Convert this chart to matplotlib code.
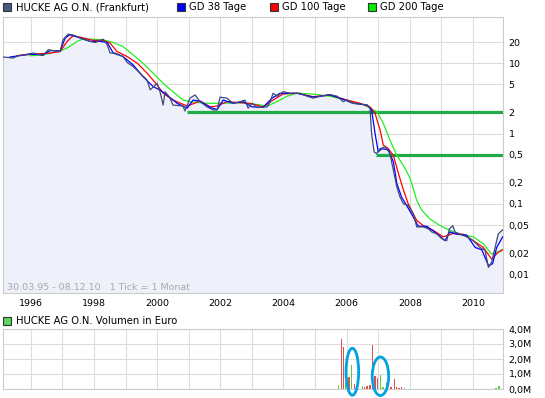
"""
HUCKE AG O.N. (Frankfurt) price chart 1995-2010 with moving averages
(GD 38 / 100 / 200 Tage) and a monthly volume panel below.
"""

import matplotlib
matplotlib.use("Agg")
import matplotlib.pyplot as plt
from matplotlib.patches import Ellipse, Rectangle
from matplotlib.ticker import NullLocator

# ---- price (EUR, log scale) ----
price_t = [1995.13, 1995.44, 1995.60, 1995.98, 1996.07, 1996.39, 1996.55, 1996.71, 1996.93, 1997.02,
           1997.18, 1997.31, 1997.47, 1997.66, 1997.88, 1998.04, 1998.29, 1998.42, 1998.51, 1998.67,
           1998.92, 1999.05, 1999.24, 1999.46, 1999.68, 1999.78, 2000.00, 2000.09, 2000.19, 2000.25,
           2000.41, 2000.50, 2000.82, 2000.88, 2001.04, 2001.20, 2001.36, 2001.58, 2001.77, 2001.90,
           2001.99, 2002.21, 2002.40, 2002.63, 2002.78, 2002.88, 2003.01, 2003.16, 2003.48, 2003.58,
           2003.67, 2003.80, 2003.99, 2004.21, 2004.52, 2004.75, 2004.94, 2005.16, 2005.47, 2005.70,
           2005.89, 2006.01, 2006.20, 2006.42, 2006.65, 2006.74, 2006.79, 2006.87, 2006.95, 2007.06,
           2007.22, 2007.37, 2007.48, 2007.59, 2007.69, 2007.80, 2007.95, 2008.11, 2008.22, 2008.43,
           2008.59, 2008.69, 2008.85, 2009.01, 2009.17, 2009.25, 2009.36, 2009.43, 2009.59, 2009.80,
           2010.01, 2010.22, 2010.38, 2010.49, 2010.59, 2010.70, 2010.80, 2010.94]
price_v = [12.3, 11.9, 12.8, 13.7, 14.0, 12.9, 15.6, 15.2, 14.7, 21.7,
           26.0, 25.5, 24.0, 22.0, 20.5, 19.8, 22.0, 18.4, 14.0, 14.0,
           12.5, 10.3, 9.0, 7.2, 5.8, 4.2, 5.2, 3.95, 2.55, 3.95,
           3.2, 2.55, 2.47, 2.1, 3.2, 3.55, 2.85, 2.4, 2.17, 2.17,
           3.3, 3.2, 2.7, 2.85, 3.0, 2.3, 2.7, 2.35, 2.4, 2.85,
           3.75, 3.4, 3.95, 3.75, 3.75, 3.4, 3.2, 3.4, 3.6, 3.4,
           2.85, 3.0, 2.7, 2.64, 2.55, 2.3, 1.0, 0.55, 0.52, 0.61,
           0.65, 0.52, 0.30, 0.174, 0.125, 0.1, 0.095, 0.072, 0.047, 0.047,
           0.044, 0.040, 0.0375, 0.032, 0.030, 0.044, 0.049, 0.040, 0.037, 0.034,
           0.030, 0.024, 0.022, 0.0125, 0.0148, 0.024, 0.0375, 0.0428]

# GD 38 Tage
gd38_t = [1995.34, 1995.98, 1996.39, 1996.61, 1996.93, 1997.09, 1997.24, 1997.56, 1997.88, 1998.19,
          1998.42, 1998.61, 1998.92, 1999.24, 1999.55, 1999.87, 2000.09, 2000.31, 2000.63, 2000.95,
          2001.14, 2001.36, 2001.68, 2001.90, 2002.09, 2002.40, 2002.72, 2003.01, 2003.35, 2003.64,
          2003.89, 2004.43, 2004.94, 2005.47, 2005.89, 2006.20, 2006.65, 2006.79, 2006.90, 2007.00,
          2007.11, 2007.32, 2007.48, 2007.59, 2007.74, 2007.90, 2008.11, 2008.27, 2008.54, 2008.85,
          2009.11, 2009.27, 2009.49, 2009.80, 2010.07, 2010.28, 2010.49, 2010.62, 2010.75, 2010.94]
gd38_v = [12.3, 13.5, 13.2, 15.2, 15.0, 23.0, 25.5, 23.0, 20.5, 20.5,
          19.8, 14.0, 12.5, 9.5, 6.5, 4.67, 4.17, 3.55, 2.7, 2.3,
          3.0, 2.9, 2.36, 2.2, 3.0, 2.7, 2.85, 2.4, 2.36, 3.2,
          3.75, 3.75, 3.3, 3.55, 3.08, 2.7, 2.55, 2.17, 1.0, 0.55,
          0.61, 0.59, 0.395, 0.194, 0.125, 0.095, 0.065, 0.048, 0.048, 0.038,
          0.030, 0.040, 0.037, 0.036, 0.024, 0.0222, 0.0132, 0.0141, 0.024, 0.034]

# GD 100 Tage
gd100_t = [1995.57, 1996.07, 1996.61, 1996.93, 1997.15, 1997.34, 1997.66, 1997.97, 1998.29, 1998.51,
           1998.73, 1999.05, 1999.37, 1999.68, 2000.00, 2000.19, 2000.50, 2000.95, 2001.36, 2001.68,
           2001.90, 2002.21, 2002.63, 2002.94, 2003.35, 2003.67, 2003.99, 2004.43, 2004.94, 2005.47,
           2006.01, 2006.42, 2006.74, 2006.90, 2007.06, 2007.16, 2007.32, 2007.48, 2007.64, 2007.80,
           2007.95, 2008.22, 2008.43, 2008.74, 2009.06, 2009.38, 2009.69, 2010.01, 2010.33, 2010.59,
           2010.80, 2010.94]
gd100_v = [12.9, 13.5, 14.0, 14.7, 20.5, 24.7, 23.0, 21.2, 21.2, 19.4,
           14.7, 12.5, 10.05, 7.25, 4.94, 3.75, 3.0, 2.47, 2.9, 2.4,
           2.47, 2.85, 2.75, 2.7, 2.4, 3.0, 3.66, 3.75, 3.35, 3.55,
           3.0, 2.7, 2.4, 1.94, 1.12, 0.685, 0.61, 0.49, 0.27, 0.156,
           0.1, 0.058, 0.049, 0.042, 0.034, 0.038, 0.037, 0.030, 0.024, 0.0164,
           0.0205, 0.0222]

# GD 200 Tage
gd200_t = [1995.98, 1996.39, 1996.93, 1997.15, 1997.47, 1997.66, 1997.97, 1998.29, 1998.61, 1998.92,
           1999.24, 1999.55, 1999.87, 2000.19, 2000.50, 2000.82, 2001.04, 2001.58, 2002.09, 2002.63,
           2003.16, 2003.48, 2003.80, 2004.11, 2004.43, 2004.94, 2005.47, 2006.01, 2006.52, 2006.96,
           2007.16, 2007.37, 2007.59, 2007.85, 2008.01, 2008.22, 2008.38, 2008.64, 2008.96, 2009.27,
           2009.59, 2010.01, 2010.33, 2010.59, 2010.75, 2010.94]
gd200_v = [12.8, 13.2, 15.0, 16.5, 20.5, 22.3, 22.0, 21.6, 19.8, 17.3,
           13.2, 10.05, 7.25, 5.2, 3.95, 3.0, 2.85, 2.7, 2.7, 2.75,
           2.6, 2.47, 2.85, 3.4, 3.75, 3.65, 3.4, 3.0, 2.6, 2.05,
           1.4, 0.81, 0.49, 0.32, 0.23, 0.112, 0.081, 0.061, 0.049, 0.042,
           0.037, 0.034, 0.027, 0.0194, 0.0205, 0.0222]

# hand drawn support lines (level, start year)
support_levels = [2.0, 0.5]
support_start = [2000.95, 2006.93]

# ---- monthly volume in Mio. EUR (green = up month, red = down month) ----
vol_t = [2005.74, 2005.83, 2005.90, 2005.97, 2006.08, 2006.15, 2006.24, 2006.34, 2006.50, 2006.57,
         2006.65, 2006.74, 2006.81, 2006.90, 2006.98, 2007.07, 2007.15, 2007.27, 2007.41, 2007.51,
         2007.57, 2007.66, 2007.73, 2007.83, 2010.73, 2010.82]
vol_m = [0.27, 3.33, 2.8, 0.5, 0.8, 1.6, 0.33, 0.5, 0.2, 0.15,
         0.2, 0.3, 2.95, 0.85, 0.75, 0.95, 0.15, 0.4, 0.13, 0.67,
         0.13, 0.1, 0.13, 0.07, 0.1, 0.2]
vol_up = [True, False, False, True, False, True, False, False, True, False,
          False, False, False, False, False, True, True, False, False, False,
          False, False, False, True, True, True]

# hand drawn circles in the volume panel: (year, Mio, width yr, height Mio)
circles = [(2006.18, 1.15, 0.40, 3.13), (2007.07, 0.85, 0.52, 2.57)]

years = list(range(1996, 2011))
price_ticks = [20, 10, 5, 2, 1, 0.5, 0.2, 0.1, 0.05, 0.02, 0.01]
price_tick_labels = ["20", "10", "5", "2", "1", "0,5", "0,2", "0,1", "0,05", "0,02", "0,01"]
vol_ticks = [0, 1, 2, 3, 4]
vol_tick_labels = ["0,0M", "1,0M", "2,0M", "3,0M", "4,0M"]

X_RANGE = (1995.12, 2010.95)
Y_RANGE = (0.0054, 45.6)
FS = 6.8
GRID = "#dddddd"

W, H = 545, 398


def px_box(x0, y0, x1, y1):
    """pixel box (top-left origin) -> figure fraction [l, b, w, h]"""
    return [x0 / W, 1 - y1 / H, (x1 - x0) / W, (y1 - y0) / H]


def style_axes(ax):
    for s in ax.spines.values():
        s.set_color("#cccccc")
        s.set_linewidth(0.8)
    ax.grid(True, color=GRID, linewidth=0.8)
    ax.set_axisbelow(True)
    ax.tick_params(length=0, labelsize=FS, colors="black")
    ax.yaxis.tick_right()


fig = plt.figure(figsize=(W / 100, H / 100), dpi=100)

# ---- main price panel ----
ax = fig.add_axes(px_box(3, 17, 503, 293))
ax.set_yscale("log")
ax.set_xlim(*X_RANGE)
ax.set_ylim(*Y_RANGE)
style_axes(ax)

ax.fill_between(price_t, price_v, Y_RANGE[0], color="#eef1fa", linewidth=0, zorder=1)
for lvl, start in zip(support_levels, support_start):
    ax.hlines(lvl, start, X_RANGE[1], color="#22aa48", linewidth=2.3, zorder=2)
ax.plot(gd200_t, gd200_v, color="#22ee22", linewidth=0.9, zorder=3)
ax.plot(gd100_t, gd100_v, color="#ff0000", linewidth=0.9, zorder=3)
ax.plot(gd38_t, gd38_v, color="#0000ff", linewidth=0.9, zorder=4)
ax.plot(price_t, price_v, color="#3e4b7a", linewidth=0.9, zorder=5)

ax.set_yticks(price_ticks)
ax.set_yticklabels(price_tick_labels)
ax.yaxis.set_minor_locator(NullLocator())
ax.set_xticks(years)
ax.set_xticklabels([str(y) if y % 2 == 0 else "" for y in years])
ax.tick_params(axis="y", pad=4)
ax.tick_params(axis="x", pad=4)

fig.text(7 / W, 1 - 287 / H, "30.03.95 - 08.12.10   1 Tick = 1 Monat",
         fontsize=FS, color="#a8a8a8", va="center", ha="left")

# ---- volume panel ----
axv = fig.add_axes(px_box(3, 329, 503, 389))
axv.set_xlim(*X_RANGE)
axv.set_ylim(0, 4)
style_axes(axv)
bar_colors = ["#55d044" if up else "#dd5050" for up in vol_up]
axv.bar(vol_t, vol_m, width=0.045, color=bar_colors, linewidth=0, zorder=3)
axv.set_yticks(vol_ticks)
axv.set_yticklabels(vol_tick_labels)
axv.set_xticks(years)
axv.set_xticklabels([])
axv.tick_params(axis="y", pad=4)

for cx, cy, w, h in circles:
    axv.add_patch(Ellipse((cx, cy), w, h, fill=False, edgecolor="#00a2e2",
                          linewidth=2.0, clip_on=False, zorder=6))

# ---- legends (drawn as figure text + small squares) ----
def legend_item(x_sq, x_txt, y, color, label):
    fig.patches.append(Rectangle((x_sq / W, 1 - (y + 4) / H), 8 / W, 8 / H,
                                 transform=fig.transFigure, facecolor=color,
                                 edgecolor="#333333", linewidth=0.8))
    fig.text(x_txt / W, 1 - y / H, label, fontsize=FS + 0.4, va="center", ha="left")


legend_item(3, 16, 7, "#4a5a85", "HUCKE AG O.N. (Frankfurt)")
legend_item(177, 189, 7, "#0000ff", "GD 38 Tage")
legend_item(270, 282, 7, "#ff0000", "GD 100 Tage")
legend_item(368, 380, 7, "#00ee00", "GD 200 Tage")
legend_item(3, 16, 321, "#5cd65c", "HUCKE AG O.N. Volumen in Euro")

plt.savefig("out.png", dpi=100)
plt.close()
